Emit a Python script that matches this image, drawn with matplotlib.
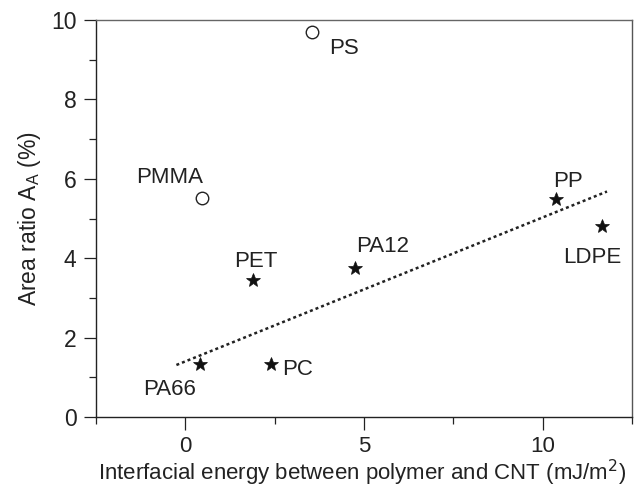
import matplotlib
matplotlib.use("Agg")
import matplotlib.pyplot as plt
from matplotlib.ticker import MultipleLocator

plt.rcParams['font.family'] = ['Liberation Sans', 'DejaVu Sans']

# data
star_names = ["PET", "PA12", "PA66", "PC", "PP", "LDPE"]
star_x = [1.90, 4.76, 0.40, 2.39, 10.37, 11.66]
star_y = [3.45, 3.75, 1.33, 1.33, 5.48, 4.81]

circle_names = ["PS", "PMMA"]
circle_x = [3.54, 0.47]
circle_y = [9.69, 5.52]

fit_x = [-0.25, 11.8]
fit_y = [1.31, 5.68]

label_names = ["PS", "PMMA", "PET", "PA12", "PA66", "PC", "PP", "LDPE"]
label_x = [4.45, -0.44, 1.97, 5.51, -0.44, 3.15, 10.71, 11.39]
label_y = [9.14, 5.89, 3.78, 4.16, 0.55, 1.06, 5.79, 3.88]

fig = plt.figure(figsize=(6.43, 4.88), dpi=100)
ax = fig.add_axes([0.1493, 0.1455, 0.8336, 0.8135])

ax.plot(fit_x, fit_y, linestyle=(0, (1.2, 1.2)), color='#222222', linewidth=1.8)
ax.plot(star_x, star_y, linestyle='none', marker='*', markersize=10,
        color='#111111', markeredgewidth=0.5)
ax.plot(circle_x, circle_y, linestyle='none', marker='o', markersize=9,
        markerfacecolor='white', markeredgecolor='#222222', markeredgewidth=1.0)

for n, x, y in zip(label_names, label_x, label_y):
    ax.text(x, y, n, ha='center', va='baseline', fontsize=16, color='#222222')

ax.set_xlim(-2.5, 12.5)
ax.set_ylim(0, 10)
ax.xaxis.set_major_locator(MultipleLocator(5))
ax.xaxis.set_minor_locator(MultipleLocator(2.5))
ax.yaxis.set_major_locator(MultipleLocator(2))
ax.yaxis.set_minor_locator(MultipleLocator(1))
ax.tick_params(which='major', length=9, width=0.9, labelsize=16.5, colors='#222222', pad=5)
ax.tick_params(which='minor', length=5, width=0.9, colors='#222222')
ax.tick_params(axis='x', which='major', pad=5, labelsize=16)
ax.yaxis.get_major_ticks()[0].tick1line.set_visible(False)

for s in ax.spines.values():
    s.set_linewidth(1.0)
    s.set_color('#222222')
ax.spines['top'].set_color('#666666')
ax.spines['right'].set_color('#555555')

ax.set_xlabel('Interfacial energy between polymer and CNT (mJ/m$^2$)', fontsize=16, color='#222222')
ax.xaxis.label.set_va('baseline')
ax.xaxis.set_label_coords(0.496, -0.1587)
ax.set_ylabel('Area ratio A$_\\mathregular{A}$ (%)', fontsize=16.5, color='#222222', labelpad=6)

fig.savefig('out.png', dpi=100)
